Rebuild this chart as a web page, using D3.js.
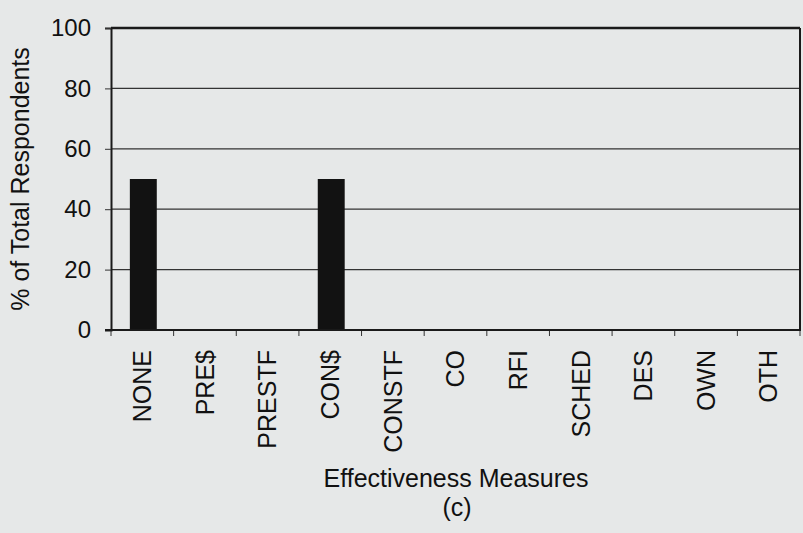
<!DOCTYPE html>
<html>
<head>
<meta charset="utf-8">
<script src="https://cdn.jsdelivr.net/npm/d3@7"></script>
<style>
  html, body { margin: 0; padding: 0; background: #e6e8e8; }
  svg { display: block; }
  text { font-family: "Liberation Sans", Arial, sans-serif; fill: #111; }
</style>
</head>
<body>
<svg id="chart" width="803" height="533"></svg>
<script>
const categories = ["NONE", "PRE$", "PRESTF", "CON$", "CONSTF", "CO", "RFI", "SCHED", "DES", "OWN", "OTH"];
const values = [50, 0, 0, 50, 0, 0, 0, 0, 0, 0, 0];
const yTicks = [0, 20, 40, 60, 80, 100];
const yTitle = "% of Total Respondents";
const xTitle = "Effectiveness Measures";
const caption = "(c)";

const svg = d3.select("#chart");
const W = 803, H = 533;
const m = { left: 111, right: 800, top: 28, bottom: 330 };

svg.append("rect").attr("width", W).attr("height", H).attr("fill", "#e6e8e8");

const x = d3.scaleBand().domain(categories).range([m.left, m.right]).paddingInner(0).paddingOuter(0);
const y = d3.scaleLinear().domain([0, 100]).range([m.bottom, m.top]);

// gridlines
svg.append("g")
  .selectAll("line")
  .data(yTicks.filter(t => t > 0 && t < 100))
  .join("line")
  .attr("x1", m.left).attr("x2", m.right)
  .attr("y1", d => y(d)).attr("y2", d => y(d))
  .attr("stroke", "#333").attr("stroke-width", 1.2);

// bars
const bw = x.bandwidth() * 0.43;
svg.append("g")
  .selectAll("rect")
  .data(categories.map((c, i) => ({ c, v: values[i] })).filter(d => d.v > 0))
  .join("rect")
  .attr("x", d => x(d.c) + x.bandwidth() / 2 - bw / 2 + 1)
  .attr("y", d => y(d.v))
  .attr("width", bw)
  .attr("height", d => y(0) - y(d.v))
  .attr("fill", "#121212");

// y axis
const yAxis = svg.append("g")
  .attr("transform", `translate(${m.left},0)`)
  .call(d3.axisLeft(y).tickValues(yTicks).tickSize(6).tickPadding(14));
yAxis.select(".domain").attr("stroke", "#1a1a1a").attr("stroke-width", 2);
yAxis.selectAll(".tick line").attr("stroke", "#333").attr("stroke-width", 1);
yAxis.selectAll(".tick text").attr("font-size", 24).attr("fill", "#111")
  .attr("font-family", "Liberation Sans, Arial, sans-serif");

// x axis (ticks at band boundaries)
const boundaries = categories.map(c => x(c)).concat([m.right]);
svg.append("g")
  .selectAll("line")
  .data(boundaries)
  .join("line")
  .attr("x1", d => d).attr("x2", d => d)
  .attr("y1", m.bottom).attr("y2", m.bottom + 6)
  .attr("stroke", "#333").attr("stroke-width", 1);

const xAxis = svg.append("g")
  .attr("transform", `translate(0,${m.bottom})`)
  .call(d3.axisBottom(x).tickSize(0).tickPadding(0));
xAxis.select(".domain").remove();
xAxis.selectAll(".tick text")
  .attr("font-size", 25)
  .attr("fill", "#111")
  .attr("font-family", "Liberation Sans, Arial, sans-serif")
  .attr("text-anchor", "end")
  .attr("transform", "translate(0,20) rotate(-90)")
  .attr("x", 0).attr("y", 0).attr("dy", "0.35em");

// frame
svg.append("line").attr("x1", m.left).attr("x2", m.right).attr("y1", m.top).attr("y2", m.top)
  .attr("stroke", "#1a1a1a").attr("stroke-width", 2.5);
svg.append("line").attr("x1", m.right).attr("x2", m.right).attr("y1", m.top).attr("y2", m.bottom)
  .attr("stroke", "#1a1a1a").attr("stroke-width", 2);
svg.append("line").attr("x1", m.left - 6).attr("x2", m.right + 1).attr("y1", m.bottom).attr("y2", m.bottom)
  .attr("stroke", "#1a1a1a").attr("stroke-width", 2.2);

// titles
svg.append("text")
  .attr("transform", `translate(29,${(m.top + m.bottom) / 2}) rotate(-90)`)
  .attr("text-anchor", "middle")
  .attr("font-size", 25)
  .text(yTitle);

svg.append("text")
  .attr("x", 456).attr("y", 487)
  .attr("text-anchor", "middle")
  .attr("font-size", 25)
  .text(xTitle);

svg.append("text")
  .attr("x", 457).attr("y", 516)
  .attr("text-anchor", "middle")
  .attr("font-size", 25)
  .text(caption);
</script>
</body>
</html>
